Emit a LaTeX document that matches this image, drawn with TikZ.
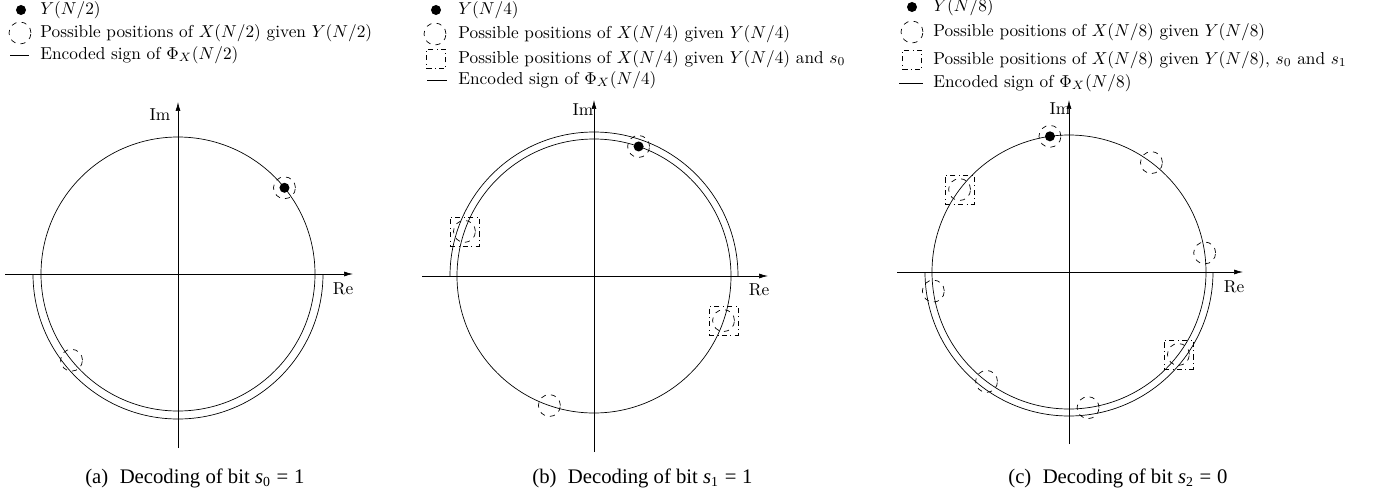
\documentclass[tikz,border=0pt]{standalone}
\usepackage{fontspec}
\newfontfamily\capfont{Liberation Serif}
\usetikzlibrary{arrows.meta}
\begin{document}
\begin{tikzpicture}[x=0.579pt,y=0.579pt,
  axisline/.style={-{Latex[length=5.2pt,width=2.9pt]}},
  dcirc/.style={circle,draw,dashed,minimum size=12.7pt,inner sep=0pt},
  dotm/.style={circle,fill=black,minimum size=5.8pt,inner sep=0pt},
  sqm/.style={rectangle,draw,dash dot,minimum size=16.8pt,inner sep=0pt},
  lsq/.style={rectangle,draw,dash dot,minimum size=11.2pt,inner sep=0pt},
  txt/.style={anchor=west,inner sep=0pt},
  lab/.style={inner sep=0pt},
  captext/.style={anchor=base west,inner sep=0pt,font=\capfont\fontsize{12}{14}\selectfont}]
\useasboundingbox (0,0) rectangle (1377,-493);

% ---------------- panel (a) ----------------
\node[dotm] (la1) at (21,-10) {};
\node[txt] (ta1) at (40,-10) {$Y(N/2)$};
\node[dcirc] (la2) at (20,-33) {};
\node[txt] (ta2) at (40,-33) {Possible positions of $X(N/2)$ given $Y(N/2)$};
\coordinate (la3a) at (10,-55); \coordinate (la3b) at (29,-55);
\draw (la3a) -- (la3b);
\node[txt] (ta3) at (40,-55) {Encoded sign of $\Phi_X(N/2)$};

\coordinate (oa) at (178,-274);
\coordinate (aL) at (5,-274); \coordinate (aR) at (353,-274);
\coordinate (aB) at (178,-448); \coordinate (aT) at (178,-102);
\draw[axisline] (aL) -- (aR);
\draw[axisline] (aB) -- (aT);
\node[lab] (ima) at (160,-115) {Im};
\node[lab] (rea) at (343,-289) {Re};
\draw (oa) circle[radius=137];
\coordinate (aarc) at (33,-274);
\draw (aarc) arc[start angle=180,end angle=360,radius=145];
\node[dotm] (ya) at ([shift={(39:137)}]oa) {};
\node[dcirc] (xa1) at ([shift={(39:137)}]oa) {};
\node[dcirc] (xa2) at ([shift={(219:137)}]oa) {};
\node[captext] (capa) at (85,-483) {(a)\hspace{0.55em}Decoding of bit {\itshape s}\textsubscript{0}\;=\;1};

% ---------------- panel (b) ----------------
\node[dotm] (lb1) at (436,-10) {};
\node[txt] (tb1) at (458,-10) {$Y(N/4)$};
\node[dcirc] (lb2) at (435,-34) {};
\node[txt] (tb2) at (458,-34) {Possible positions of $X(N/4)$ given $Y(N/4)$};
\node[lsq] (lb3) at (436,-59) {};
\node[txt] (tb3) at (458,-59) {Possible positions of $X(N/4)$ given $Y(N/4)$ and $s_0$};
\coordinate (lb4a) at (427,-80); \coordinate (lb4b) at (447,-80);
\draw (lb4a) -- (lb4b);
\node[txt] (tb4) at (458,-80) {Encoded sign of $\Phi_X(N/4)$};

\coordinate (ob) at (594,-276);
\coordinate (bL) at (422,-276); \coordinate (bR) at (768,-276);
\coordinate (bB) at (594,-452); \coordinate (bT) at (594,-100);
\draw[axisline] (bL) -- (bR);
\draw[axisline] (bB) -- (bT);
\node[lab] (imb) at (583,-110) {Im};
\node[lab] (reb) at (759,-290) {Re};
\draw (ob) circle[radius=137];
\coordinate (barc) at (738,-276);
\draw (barc) arc[start angle=0,end angle=180,radius=144];
\node[dotm] (yb) at ([shift={(71:137)}]ob) {};
\node[dcirc] (xb1) at ([shift={(71:137)}]ob) {};
\node[dcirc] (xb2) at ([shift={(161:137)}]ob) {};
\node[sqm] (sb2) at ([shift={(161:137)}]ob) {};
\node[dcirc] (xb3) at ([shift={(251:137)}]ob) {};
\node[dcirc] (xb4) at ([shift={(341:137)}]ob) {};
\node[sqm] (sb4) at ([shift={(341:137)}]ob) {};
\node[captext] (capb) at (532,-483) {(b)\hspace{0.55em}Decoding of bit {\itshape s}\textsubscript{1}\;=\;1};

% ---------------- panel (c) ----------------
\node[dotm] (lc1) at (912,-7) {};
\node[txt] (tc1) at (933,-7) {$Y(N/8)$};
\node[dcirc] (lc2) at (912,-32) {};
\node[txt] (tc2) at (933,-32) {Possible positions of $X(N/8)$ given $Y(N/8)$};
\node[lsq] (lc3) at (912,-60) {};
\node[txt] (tc3) at (933,-60) {Possible positions of $X(N/8)$ given $Y(N/8)$, $s_0$ and $s_1$};
\coordinate (lc4a) at (899,-83); \coordinate (lc4b) at (923,-83);
\draw (lc4a) -- (lc4b);
\node[txt] (tc4) at (933,-83) {Encoded sign of $\Phi_X(N/8)$};

\coordinate (oc) at (1069,-272);
\coordinate (cL) at (897,-272); \coordinate (cR) at (1243,-272);
\coordinate (cB) at (1069,-444); \coordinate (cT) at (1069,-100);
\draw[axisline] (cL) -- (cR);
\draw[axisline] (cB) -- (cT);
\node[lab] (imc) at (1060,-109) {Im};
\node[lab] (rec) at (1234,-287) {Re};
\draw (oc) circle[radius=137];
\coordinate (carc) at (925,-272);
\draw (carc) arc[start angle=180,end angle=360,radius=144];
\node[dotm] (yc) at ([shift={(98:137)}]oc) {};
\node[dcirc] (xc1) at ([shift={(98:137)}]oc) {};
\node[dcirc] (xc2) at ([shift={(53:137)}]oc) {};
\node[dcirc] (xc3) at ([shift={(8:137)}]oc) {};
\node[dcirc] (xc4) at ([shift={(143:137)}]oc) {};
\node[sqm] (sc4) at ([shift={(143:137)}]oc) {};
\node[dcirc] (xc5) at ([shift={(188:137)}]oc) {};
\node[dcirc] (xc6) at ([shift={(233:137)}]oc) {};
\node[dcirc] (xc7) at ([shift={(278:137)}]oc) {};
\node[dcirc] (xc8) at ([shift={(323:137)}]oc) {};
\node[sqm] (sc8) at ([shift={(323:137)}]oc) {};
\node[captext] (capc) at (1008,-483) {(c)\hspace{0.55em}Decoding of bit {\itshape s}\textsubscript{2}\;=\;0};
\end{tikzpicture}
\end{document}
